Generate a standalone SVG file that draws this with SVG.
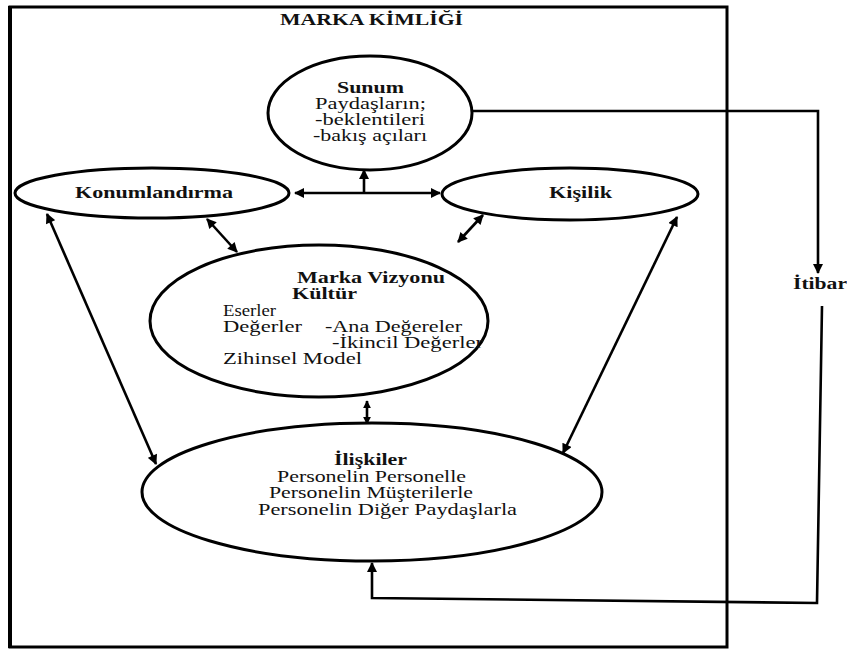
<svg xmlns="http://www.w3.org/2000/svg" width="847" height="651" viewBox="0 0 847 651" font-family="Liberation Serif, Times New Roman, serif" font-size="16">
  <style>
    text { fill: #111; }
    .b { font-weight: bold; }
    .shape { fill: #fff; stroke: #000; stroke-width: 3; }
    .conn { fill: none; stroke: #000; stroke-width: 2.6; }
  </style>
  <defs>
    <marker id="ah" viewBox="0 0 10 10" refX="9" refY="5" markerWidth="11" markerHeight="10" orient="auto-start-reverse" markerUnits="userSpaceOnUse">
      <path d="M0,0 L10,5 L0,10 z" fill="#000"/>
    </marker>
    <marker id="ahs" viewBox="0 0 10 10" refX="9" refY="5" markerWidth="8" markerHeight="9" orient="auto-start-reverse" markerUnits="userSpaceOnUse">
      <path d="M0,0 L10,5 L0,10 z" fill="#000"/>
    </marker>
  </defs>
  <rect width="847" height="651" fill="#fff"/>

  <!-- outer frame: brand identity -->
  <g id="frame">
    <rect x="10" y="7" width="717" height="640" fill="none" stroke="#000" stroke-width="3"/>
    <line x1="10" y1="6" x2="10" y2="648" stroke="#000" stroke-width="4"/>
    <text class="b" x="280" y="25" textLength="183" lengthAdjust="spacingAndGlyphs">MARKA KİMLİĞİ</text>
  </g>

  <!-- connectors -->
  <g id="connectors">
    <line class="conn" x1="295" y1="193" x2="440" y2="193" marker-start="url(#ah)" marker-end="url(#ah)"/>
    <line class="conn" x1="364" y1="193" x2="364" y2="170" marker-end="url(#ah)"/>
    <line class="conn" x1="207" y1="219" x2="237" y2="252" marker-start="url(#ah)" marker-end="url(#ah)"/>
    <line class="conn" x1="483" y1="215" x2="458" y2="242" marker-start="url(#ah)" marker-end="url(#ah)"/>
    <line class="conn" x1="47" y1="214" x2="156" y2="464" marker-start="url(#ah)" marker-end="url(#ah)"/>
    <line class="conn" x1="677" y1="217" x2="563" y2="453" marker-start="url(#ah)" marker-end="url(#ah)"/>
    <line class="conn" x1="367" y1="401" x2="367" y2="424" marker-start="url(#ahs)" marker-end="url(#ahs)"/>
    <path class="conn" d="M472,111 H818 V273" marker-end="url(#ah)"/>
    <path class="conn" d="M822,306 L817,603 L372,598 L372,563" marker-end="url(#ah)"/>
  </g>

  <g id="sunum">
    <ellipse class="shape" cx="370" cy="113" rx="102" ry="57"/>
    <text class="b" x="337" y="93" textLength="67" lengthAdjust="spacingAndGlyphs">Sunum</text>
    <text x="315" y="109" textLength="111" lengthAdjust="spacingAndGlyphs">Paydaşların;</text>
    <text x="315" y="125" textLength="110" lengthAdjust="spacingAndGlyphs">-beklentileri</text>
    <text x="313" y="141" textLength="114" lengthAdjust="spacingAndGlyphs">-bakış açıları</text>
  </g>

  <g id="konumlandirma">
    <ellipse class="shape" cx="152" cy="193" rx="137" ry="25"/>
    <text class="b" x="75" y="198" textLength="158" lengthAdjust="spacingAndGlyphs">Konumlandırma</text>
  </g>

  <g id="kisilik">
    <ellipse class="shape" cx="570" cy="194" rx="128" ry="26"/>
    <text class="b" x="549" y="198" textLength="63" lengthAdjust="spacingAndGlyphs">Kişilik</text>
  </g>

  <g id="itibar">
    <text class="b" x="793" y="289" textLength="54" lengthAdjust="spacingAndGlyphs">İtibar</text>
  </g>

  <g id="marka-vizyonu">
    <ellipse class="shape" cx="319" cy="321" rx="169" ry="76"/>
    <text class="b" x="297" y="283" textLength="148" lengthAdjust="spacingAndGlyphs">Marka Vizyonu</text>
    <text class="b" x="292" y="299" textLength="65" lengthAdjust="spacingAndGlyphs">Kültür</text>
    <text x="223" y="316" textLength="53" lengthAdjust="spacingAndGlyphs">Eserler</text>
    <text x="223" y="332" textLength="79" lengthAdjust="spacingAndGlyphs">Değerler</text>
    <text x="325" y="332" textLength="137" lengthAdjust="spacingAndGlyphs">-Ana Değereler</text>
    <text x="332" y="348" textLength="151" lengthAdjust="spacingAndGlyphs">-İkincil Değerler</text>
    <text x="223" y="364" textLength="139" lengthAdjust="spacingAndGlyphs">Zihinsel Model</text>
  </g>

  <g id="iliskiler">
    <ellipse class="shape" cx="372" cy="492" rx="230" ry="69"/>
    <text class="b" x="334" y="465" textLength="73" lengthAdjust="spacingAndGlyphs">İlişkiler</text>
    <text x="277" y="482" textLength="189" lengthAdjust="spacingAndGlyphs">Personelin Personelle</text>
    <text x="269" y="498" textLength="204" lengthAdjust="spacingAndGlyphs">Personelin Müşterilerle</text>
    <text x="258" y="515" textLength="259" lengthAdjust="spacingAndGlyphs">Personelin Diğer Paydaşlarla</text>
  </g>
</svg>
